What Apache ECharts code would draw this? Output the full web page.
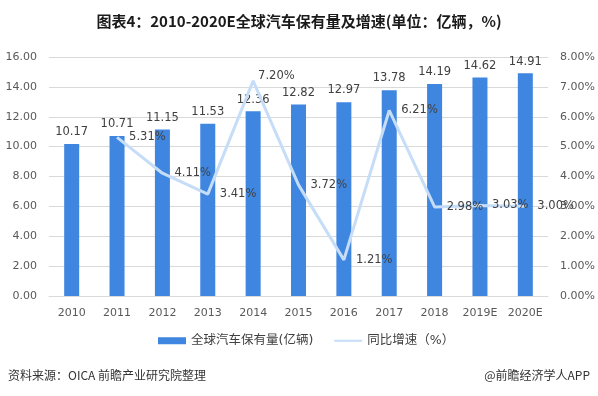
<!DOCTYPE html>
<html>
<head>
<meta charset="utf-8">
<script src="https://cdn.jsdelivr.net/npm/echarts@6/dist/echarts.min.js"></script>
<style>
    html, body { margin: 0; padding: 0; background: #fff; }
    #chart { width: 598px; height: 396px; }
</style>
</head>
<body>
<div id="chart"></div>
<script>
// 数据
const years = ['2010', '2011', '2012', '2013', '2014', '2015', '2016', '2017', '2018', '2019E', '2020E'];
const stock = [10.17, 10.71, 11.15, 11.53, 12.36, 12.82, 12.97, 13.78, 14.19, 14.62, 14.91];
const growth = ['-', 5.31, 4.11, 3.41, 7.20, 3.72, 1.21, 6.21, 2.98, 3.03, 3.00];
const leftTicks = { min: 0, max: 16, interval: 2 };
const rightTicks = { min: 0, max: 8, interval: 1 };

const font = '"DejaVu Sans", "Noto Sans CJK SC", sans-serif';
const cjk = '"Noto Sans CJK SC", sans-serif';
const axisText = { color: '#595959', fontSize: 11, fontFamily: font };

// 2014 的标签在原图中略靠上
const labelTweaks = {
    4: { position: [5, -11] }
};
const growthData = growth.map((v, i) => labelTweaks[i] ? { value: v, label: labelTweaks[i] } : v);

const myChart = echarts.init(document.getElementById('chart'));
myChart.setOption({
    animation: false,
    title: {
        text: '图表4：2010-2020E全球汽车保有量及增速(单位：亿辆，%)',
        left: 'center',
        top: 9,
        textStyle: { fontSize: 15, fontWeight: 'bold', color: '#1a1a1a', fontFamily: cjk }
    },
    graphic: [
        {
            type: 'text', left: 8, top: 369,
            style: { text: '资料来源：OICA 前瞻产业研究院整理', fontSize: 12, fill: '#333', fontFamily: cjk }
        },
        {
            type: 'text', right: 8, top: 369,
            style: { text: '@前瞻经济学人APP', fontSize: 12, fill: '#333', fontFamily: cjk }
        }
    ],
    grid: { left: 49, right: 50, top: 57, bottom: 100 },
    legend: {
        bottom: 44,
        left: 153,
        itemGap: 20,
        itemWidth: 28,
        itemHeight: 7,
        textStyle: { color: '#404040', fontSize: 12.5, fontFamily: font },
        data: [
            { name: '全球汽车保有量(亿辆)', icon: 'rect' },
            { name: '同比增速（%）', itemStyle: { opacity: 0 } }
        ]
    },
    xAxis: {
        type: 'category',
        data: years,
        axisTick: { show: false },
        axisLine: { lineStyle: { color: '#d9d9d9' } },
        axisLabel: Object.assign({ margin: 12, interval: 0 }, axisText)
    },
    yAxis: [
        {
            type: 'value',
            min: leftTicks.min, max: leftTicks.max, interval: leftTicks.interval,
            axisLabel: Object.assign({ formatter: v => v.toFixed(2), margin: 12 }, axisText),
            splitLine: { lineStyle: { color: '#d9d9d9' } },
            axisLine: { show: false },
            axisTick: { show: false }
        },
        {
            type: 'value',
            min: rightTicks.min, max: rightTicks.max, interval: rightTicks.interval,
            axisLabel: Object.assign({ formatter: v => v.toFixed(2) + '%', margin: 12 }, axisText),
            splitLine: { show: false },
            axisLine: { show: false },
            axisTick: { show: false }
        }
    ],
    series: [
        {
            name: '全球汽车保有量(亿辆)',
            type: 'bar',
            data: stock,
            barWidth: 15,
            itemStyle: { color: '#3f86e0' },
            label: {
                show: true, position: 'top', distance: 6,
                color: '#404040', fontSize: 11.5, fontFamily: font,
                formatter: p => Number(p.value).toFixed(2)
            }
        },
        {
            name: '同比增速（%）',
            type: 'line',
            yAxisIndex: 1,
            data: growthData,
            symbol: 'circle',
            symbolSize: 0.1,
            showSymbol: true,
            itemStyle: { color: '#c6ddf8' },
            lineStyle: { color: '#c6ddf8', width: 3 },
            label: {
                show: true, position: 'right', distance: 12,
                color: '#404040', fontSize: 11.5, fontFamily: font,
                formatter: p => typeof p.value === 'number' ? p.value.toFixed(2) + '%' : ''
            },
            labelLayout: { hideOverlap: false },
            z: 3
        }
    ]
});
</script>
</body>
</html>
